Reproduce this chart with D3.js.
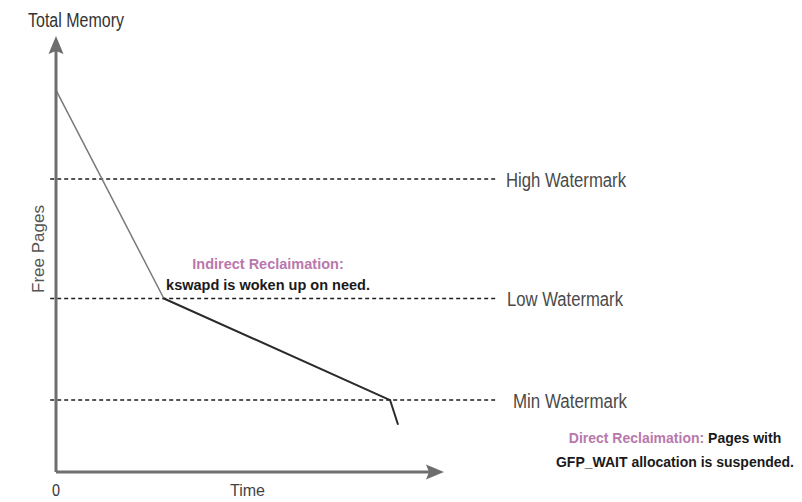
<!DOCTYPE html>
<html>
<head>
<meta charset="utf-8">
<script src="https://cdn.jsdelivr.net/npm/d3@7"></script>
<style>
  html, body { margin: 0; padding: 0; background: #fff; }
  svg { display: block; font-family: "Liberation Sans", Arial, sans-serif; }
</style>
</head>
<body>
<svg id="chart" width="802" height="502"></svg>
<script>
// Free pages over time (arbitrary units, 0-100 on each axis)
const timePoints = [0, 27.8, 86.1, 88.1];
const freePages  = [87.6, 39.8, 16.5, 11.0];

// Watermark levels
const watermarkNames  = ["High Watermark", "Low Watermark", "Min Watermark"];
const watermarkLevels = [67.2, 39.8, 16.5];

const axisLabels = { y: "Total Memory", yTitle: "Free Pages", x: "Time", origin: "0" };

const svg = d3.select("#chart");
const x = d3.scaleLinear().domain([0, 100]).range([56, 444]);
const y = d3.scaleLinear().domain([0, 100]).range([472, 36]);

const axisColor = "#6e6e6e";
const labelColor = "#4a4a4a";
const pink = "#b978ad";

// watermark guide lines
const wm = watermarkNames.map((n, i) => ({ name: n, level: watermarkLevels[i] }));
svg.append("g").selectAll("line").data(wm).join("line")
  .attr("x1", x(-1.5)).attr("x2", x(113.7))
  .attr("y1", d => y(d.level)).attr("y2", d => y(d.level))
  .attr("stroke", "#1e1e1e").attr("stroke-width", 1.5)
  .attr("stroke-dasharray", "4,3");

const wmLabelWidths = [120, 116, 114];
const wmLabelX = [506, 507, 513];
svg.append("g").selectAll("text").data(wm).join("text")
  .attr("x", (d, i) => wmLabelX[i])
  .attr("y", d => y(d.level) + 8)
  .attr("font-size", 20)
  .attr("fill", labelColor)
  .attr("textLength", (d, i) => wmLabelWidths[i])
  .attr("lengthAdjust", "spacingAndGlyphs")
  .text(d => d.name);

// free pages curve: steep fall until Low, slower until Min, then a sharp drop
const pts = timePoints.map((t, i) => [t, freePages[i]]);
const line = d3.line().x(d => x(d[0])).y(d => y(d[1]));
const segStyles = [
  { stroke: "#7a7a7a", width: 1.5 },
  { stroke: "#2a2a2a", width: 2 },
  { stroke: "#2a2a2a", width: 2 }
];
for (let i = 0; i < pts.length - 1; i++) {
  svg.append("path")
    .attr("d", line([pts[i], pts[i + 1]]))
    .attr("fill", "none")
    .attr("stroke", segStyles[i].stroke)
    .attr("stroke-width", segStyles[i].width)
    .attr("stroke-linecap", "round");
}

// axes with arrowheads
const axes = svg.append("g");
axes.append("path")
  .attr("d", `M${x(0)},${y(0)} L${x(0)},${y(100) + 14} M${x(0)},${y(0)} L${x(100) - 14},${y(0)}`)
  .attr("fill", "none").attr("stroke", axisColor).attr("stroke-width", 3);
// up arrow
axes.append("path")
  .attr("d", `M${x(0)},${y(100)} L${x(0) + 7.5},${y(100) + 18} L${x(0)},${y(100) + 15} L${x(0) - 7.5},${y(100) + 18} Z`)
  .attr("fill", axisColor);
// right arrow
axes.append("path")
  .attr("d", `M${x(100)},${y(0)} L${x(100) - 18},${y(0) - 7.5} L${x(100) - 15},${y(0)} L${x(100) - 18},${y(0) + 7.5} Z`)
  .attr("fill", axisColor);

// axis labels
svg.append("text").attr("x", 28).attr("y", 27)
  .attr("font-size", 20).attr("fill", "#333")
  .attr("textLength", 96).attr("lengthAdjust", "spacingAndGlyphs")
  .text(axisLabels.y);

svg.append("text")
  .attr("transform", "translate(44,249) rotate(-90)")
  .attr("text-anchor", "middle")
  .attr("font-size", 17).attr("fill", "#555")
  .text(axisLabels.yTitle);

svg.append("text").attr("x", x(0)).attr("y", 496)
  .attr("text-anchor", "middle")
  .attr("font-size", 16).attr("fill", "#333")
  .attr("textLength", 8).attr("lengthAdjust", "spacingAndGlyphs")
  .text(axisLabels.origin);

svg.append("text").attr("x", 230).attr("y", 496)
  .attr("font-size", 17).attr("fill", "#444")
  .attr("textLength", 35).attr("lengthAdjust", "spacingAndGlyphs")
  .text(axisLabels.x);

// annotations
const ind = svg.append("text").attr("text-anchor", "middle")
  .attr("font-size", 14.5).attr("font-weight", "bold");
ind.append("tspan").attr("x", 268).attr("y", 269)
  .attr("fill", pink).text("Indirect Reclaimation:");
ind.append("tspan").attr("x", 268).attr("y", 290)
  .attr("fill", "#1a1a1a").text("kswapd is woken up on need.");

const dir = svg.append("text").attr("text-anchor", "middle")
  .attr("font-size", 14).attr("font-weight", "bold");
const l1 = dir.append("tspan").attr("x", 675).attr("y", 443);
l1.append("tspan").attr("fill", pink).text("Direct Reclaimation:");
l1.append("tspan").attr("fill", "#1a1a1a").text(" Pages with");
dir.append("tspan").attr("x", 675).attr("y", 467)
  .attr("fill", "#1a1a1a").text("GFP_WAIT allocation is suspended.");
</script>
</body>
</html>
